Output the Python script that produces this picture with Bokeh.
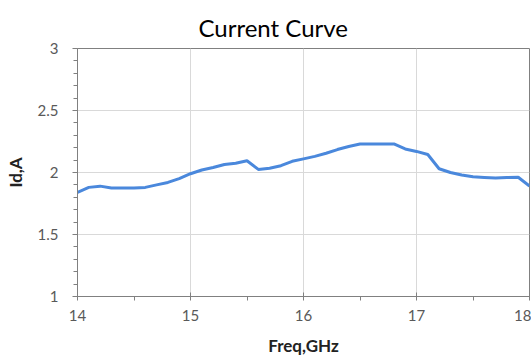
from bokeh.plotting import figure
from bokeh.models import Range1d, FixedTicker, Title
from bokeh.embed import file_html
from bokeh.resources import INLINE

# ---- data ----
freq_ghz = [14.0, 14.1, 14.2, 14.3, 14.4, 14.5, 14.6, 14.7, 14.8, 14.9,
            15.0, 15.1, 15.2, 15.3, 15.4, 15.5, 15.6, 15.7, 15.8, 15.9,
            16.0, 16.1, 16.2, 16.3, 16.4, 16.5, 16.6, 16.7, 16.8, 16.9,
            17.0, 17.1, 17.2, 17.3, 17.4, 17.5, 17.6, 17.7, 17.8, 17.9, 18.0]
id_amp = [1.84, 1.88, 1.89, 1.875, 1.875, 1.875, 1.88, 1.90, 1.92, 1.95,
          1.99, 2.02, 2.04, 2.065, 2.075, 2.095, 2.025, 2.035, 2.055, 2.09,
          2.11, 2.13, 2.155, 2.185, 2.21, 2.23, 2.23, 2.23, 2.23, 2.19,
          2.17, 2.145, 2.03, 2.0, 1.98, 1.965, 1.96, 1.955, 1.96, 1.962, 1.89]
x_ticks = [14, 15, 16, 17, 18]
x_minor = [14.5, 15.5, 16.5, 17.5]
y_ticks = [1, 1.5, 2, 2.5, 3]
y_minor = [1.1, 1.2, 1.3, 1.4, 1.6, 1.7, 1.8, 1.9, 2.1, 2.2, 2.3, 2.4,
           2.6, 2.7, 2.8, 2.9]

FONT = "Lato"
AXIS_COL = "#808080"
TICK_TXT = "#595959"

p = figure(width=531, height=358, output_backend="svg", toolbar_location=None,
           x_range=Range1d(14, 18), y_range=Range1d(1, 3),
           min_border_left=77, min_border_right=2, min_border_top=48,
           min_border_bottom=59, title=None)

t = Title(text="Current Curve", align="left", offset=121,
          text_font=FONT, text_font_size="24px", text_font_style="normal",
          text_color="#000000", vertical_align="top", standoff=10)
p.add_layout(t, "above")

p.line(freq_ghz, id_amp, line_color="#4a88dc", line_width=3)

p.xaxis.ticker = FixedTicker(ticks=x_ticks, minor_ticks=x_minor)
p.yaxis.ticker = FixedTicker(ticks=y_ticks, minor_ticks=y_minor)

for ax in (p.xaxis, p.yaxis):
    ax.axis_line_color = AXIS_COL
    ax.major_tick_line_color = AXIS_COL
    ax.minor_tick_line_color = AXIS_COL
    ax.major_label_text_font = FONT
    ax.major_label_text_font_size = "15px"
    ax.major_label_text_color = TICK_TXT
    ax.axis_label_text_font = FONT
    ax.axis_label_text_font_style = "bold"
    ax.axis_label_text_font_size = "17px"
    ax.axis_label_text_color = "#222222"

p.xaxis.axis_label = "Freq,GHz"
p.xaxis.major_tick_in = 4
p.xaxis.major_tick_out = 4
p.xaxis.minor_tick_in = 0
p.xaxis.minor_tick_out = 4
p.xaxis.major_label_standoff = 9
p.xaxis.axis_label_standoff = 11

p.yaxis.axis_label = "Id,A"
p.yaxis.major_tick_in = 0
p.yaxis.major_tick_out = 5
p.yaxis.minor_tick_in = 0
p.yaxis.minor_tick_out = 4
p.yaxis.major_label_standoff = 14
p.yaxis.axis_label_standoff = 9

p.xgrid.ticker = FixedTicker(ticks=x_ticks)
p.ygrid.ticker = FixedTicker(ticks=y_ticks)
p.grid.grid_line_color = "#d9d9d9"
p.grid.grid_line_width = 1

p.outline_line_color = AXIS_COL
p.outline_line_width = 1
p.background_fill_color = "white"
p.border_fill_color = "white"

open("out.html", "w").write(file_html(p, INLINE))
